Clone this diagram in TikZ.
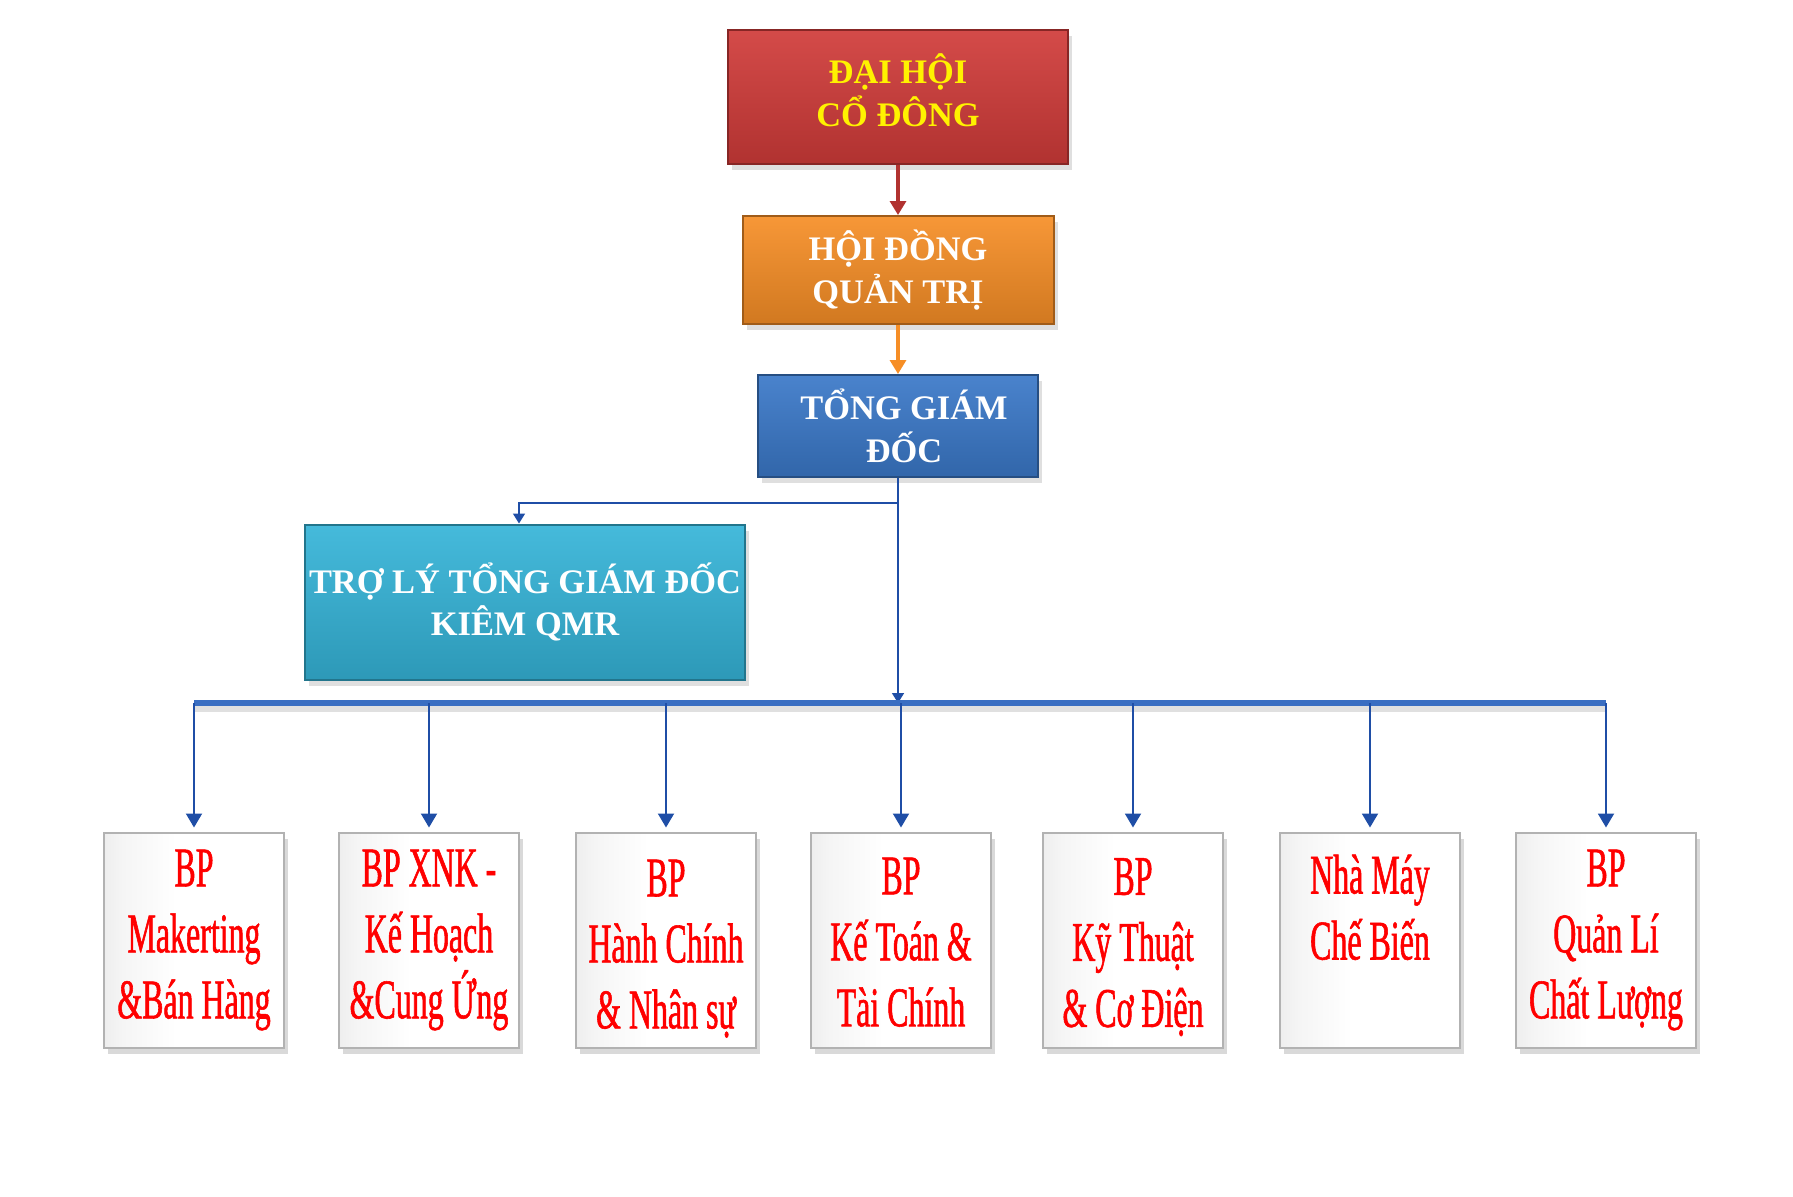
\documentclass[tikz,border=0pt]{standalone}
\usepackage{fontspec}
\setmainfont{Liberation Serif}
\newfontfamily\narrowserif{Liberation Serif}[FakeStretch=0.57,FakeBold=1]
\usepackage{xcolor}
\usepackage{tikz}
\usetikzlibrary{positioning,arrows.meta,shadows}

\definecolor{dhcdred}{HTML}{D03B39}
\definecolor{hdqtorange}{HTML}{F68E26}
\definecolor{tgdblue}{HTML}{3A78C8}
\definecolor{trolycyan}{HTML}{35B4D8}
\definecolor{linkblue}{HTML}{1F4EA6}
\definecolor{busblue}{HTML}{3A6EC2}
\definecolor{titleyellow}{HTML}{FFF200}

\pgfdeclarehorizontalshading{bevelwhite}{100bp}{color(0bp)=(black!20); color(30bp)=(black!4); color(45bp)=(white); color(100bp)=(white)}
\newcommand{\topgap}[1]{\rule{0pt}{#1}}

\tikzset{
  topbox/.style={draw=#1!65!black, line width=1pt, top color=#1!92!white, bottom color=#1!85!black,
    drop shadow={shadow xshift=2pt, shadow yshift=-3pt, opacity=.25},
    align=center, inner sep=1pt, text=white, font=\bfseries\fontsize{17.2}{21.2}\selectfont},
  bpbox/.style={draw=gray!60, line width=1pt, shading=bevelwhite,
    drop shadow={shadow xshift=2pt, shadow yshift=-3pt, opacity=.3},
    minimum width=90pt, minimum height=107.5pt, align=center, text=red,
    font=\narrowserif\fontsize{28}{33}\selectfont},
  droparrow/.style={draw=linkblue, line width=1pt, -{Triangle[width=8pt,length=7pt]}},
}

\begin{document}
\begin{tikzpicture}[x=0.5pt,y=-0.5pt]
\useasboundingbox (0,0) rectangle (1793,1196);

% top of the chart
\node[topbox=dhcdred, minimum width=170pt, minimum height=67pt, text depth=7pt, text=titleyellow] at (898,97) (dhcd) {ĐẠI HỘI\\CỔ ĐÔNG};
\node[topbox=hdqtorange, minimum width=155.5pt, minimum height=54pt] at (898,270) (hdqt) {HỘI ĐỒNG\\QUẢN TRỊ};
\node[topbox=tgdblue, minimum width=140pt, minimum height=51pt] at (898,426) (tgd) {\hspace{6pt}TỔNG GIÁM\\\hspace{6pt}ĐỐC};
\node[topbox=trolycyan, minimum width=220pt, minimum height=77.5pt] at (525,602) (troly) {TRỢ LÝ TỔNG GIÁM ĐỐC\\KIÊM QMR};

\draw[draw=dhcdred!85!black, line width=1.6pt, -{Triangle[width=8pt,length=7pt]}] (dhcd) -- (hdqt);
\draw[draw=hdqtorange, line width=1.6pt, -{Triangle[width=8pt,length=7pt]}] (hdqt) -- (tgd);

\coordinate (split) at (898,503);
\coordinate (bus) at (898,703);
\draw[draw=linkblue, line width=0.8pt] (tgd.south) -- (split);
\draw[draw=linkblue, line width=0.8pt, -{Triangle[width=6pt,length=5pt]}] (split) -| ([xshift=-3pt]troly.north);
\draw[draw=linkblue, line width=0.8pt, -{Triangle[width=6pt,length=5pt]}] (split) -- (bus);

% departments
\node[bpbox] at (194,940) (mkt) {BP\\Makerting\\\&Bán Hàng};
\node[bpbox] at (429,940) (xnk) {BP XNK -\\Kế Hoạch\\\&Cung Ứng};
\node[bpbox] at (666,940) (hcns) {\topgap{27pt}BP\\Hành Chính\\\& Nhân sự};
\node[bpbox] at (901,940) (ktoan) {\topgap{20.5pt}BP\\Kế Toán \&\\Tài Chính};
\node[bpbox] at (1133,940) (kythuat) {\topgap{25.5pt}BP\\Kỹ Thuật\\\& Cơ Điện};
\node[bpbox] at (1370,940) (nhamay) {Nhà Máy\\Chế Biến\\~};
\node[bpbox] at (1606,940) (qlcl) {BP\\Quản Lí\\Chất Lượng};

\coordinate (busL) at (mkt.north |- bus);
\coordinate (busR) at (qlcl.north |- bus);
\draw[draw=black!12, line width=3pt] ([yshift=-3pt]busL) -- ([yshift=-3pt]busR);
\draw[draw=busblue, line width=2.6pt] (busL) -- (busR);

\foreach \dept in {mkt,xnk,hcns,ktoan,kythuat,nhamay,qlcl}
  \draw[droparrow] (\dept.north |- bus) -- ([yshift=2pt]\dept.north);
\end{tikzpicture}
\end{document}
